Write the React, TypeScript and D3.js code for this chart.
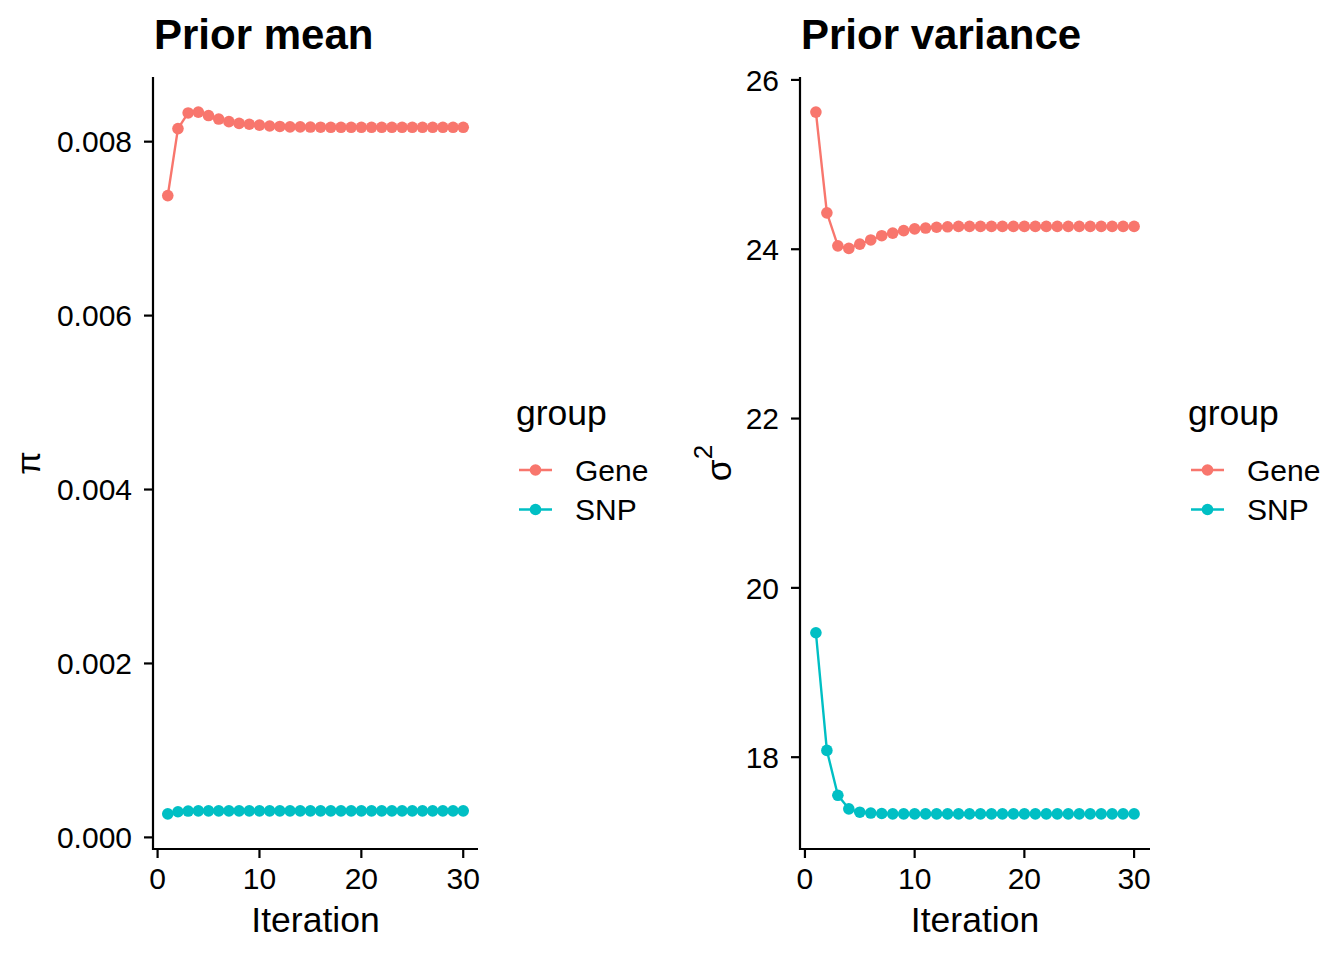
import React from "react";
import * as d3 from "d3";

const iterations: number[] = d3.range(1, 31);

const geneMean: number[] = [
  0.00738, 0.00815, 0.00833, 0.00834, 0.0083, 0.00826, 0.00823, 0.00821, 0.0082, 0.00819,
  0.00818, 0.008175, 0.00817, 0.00817, 0.008168, 0.008166, 0.008165, 0.008165, 0.008165, 0.008165,
  0.008165, 0.008165, 0.008165, 0.008165, 0.008165, 0.008165, 0.008165, 0.008165, 0.008165, 0.008165,
];
const snpMean: number[] = [
  0.00027, 0.000295, 0.000303, 0.000305, 0.000305, 0.000305, 0.000305, 0.000305, 0.000305, 0.000305,
  0.000305, 0.000305, 0.000305, 0.000305, 0.000305, 0.000305, 0.000305, 0.000305, 0.000305, 0.000305,
  0.000305, 0.000305, 0.000305, 0.000305, 0.000305, 0.000305, 0.000305, 0.000305, 0.000305, 0.000305,
];
const geneVar: number[] = [
  25.62, 24.43, 24.04, 24.01, 24.06, 24.11, 24.16, 24.19, 24.22, 24.24,
  24.25, 24.26, 24.265, 24.27, 24.27, 24.27, 24.27, 24.27, 24.27, 24.27,
  24.27, 24.27, 24.27, 24.27, 24.27, 24.27, 24.27, 24.27, 24.27, 24.27,
];
const snpVar: number[] = [
  19.47, 18.08, 17.55, 17.39, 17.35, 17.34, 17.335, 17.33, 17.33, 17.33,
  17.33, 17.33, 17.33, 17.33, 17.33, 17.33, 17.33, 17.33, 17.33, 17.33,
  17.33, 17.33, 17.33, 17.33, 17.33, 17.33, 17.33, 17.33, 17.33, 17.33,
];

const groups = ["Gene", "SNP"];
const groupColors = ["#F8766D", "#00BFC4"];
const xTicks = [0, 10, 20, 30];
const meanTicks = [0, 0.002, 0.004, 0.006, 0.008];
const varTicks = [18, 20, 22, 24, 26];

const FONT = "'Liberation Sans', Arial, Helvetica, sans-serif";

function expand(vals: number[]): [number, number] {
  const [lo, hi] = d3.extent(vals) as [number, number];
  const pad = (hi - lo) * 0.05;
  return [lo - pad, hi + pad];
}

type PanelProps = {
  left: number;
  right: number;
  title: string;
  series: number[][];
  yTicks: number[];
  yFormat: (v: number) => string;
  yLabel: React.ReactNode;
  yLabelX: number;
  legendX: number;
};

function Panel({ left, right, title, series, yTicks, yFormat, yLabel, yLabelX, legendX }: PanelProps) {
  const top = 77;
  const bottom = 849;
  const x = d3.scaleLinear().domain(expand(iterations)).range([left, right]);
  const y = d3.scaleLinear().domain(expand(series.flat())).range([bottom, top]);
  const line = d3
    .line<number>()
    .x((_, i) => x(iterations[i]))
    .y((d) => y(d));
  const tickLen = 9;
  return (
    <g fontFamily={FONT}>
      <text x={left + 1} y={49} fontSize={42} fontWeight="bold" fill="#000">
        {title}
      </text>
      {series.map((s, gi) => (
        <g key={gi}>
          <path d={line(s) || ""} fill="none" stroke={groupColors[gi]} strokeWidth={2.4} />
          {s.map((v, i) => (
            <circle key={i} cx={x(iterations[i])} cy={y(v)} r={5.8} fill={groupColors[gi]} />
          ))}
        </g>
      ))}
      <line x1={left} x2={left} y1={top} y2={bottom + 1} stroke="#000" strokeWidth={2.2} />
      <line x1={left - 1} x2={right} y1={bottom} y2={bottom} stroke="#000" strokeWidth={2.2} />
      {yTicks.map((t) => (
        <g key={t}>
          <line x1={left - tickLen} x2={left} y1={y(t)} y2={y(t)} stroke="#000" strokeWidth={2.2} />
          <text x={left - tickLen - 12} y={y(t)} dy="0.36em" textAnchor="end" fontSize={30} fill="#000">
            {yFormat(t)}
          </text>
        </g>
      ))}
      {xTicks.map((t) => (
        <g key={t}>
          <line x1={x(t)} x2={x(t)} y1={bottom} y2={bottom + tickLen} stroke="#000" strokeWidth={2.2} />
          <text x={x(t)} y={889} textAnchor="middle" fontSize={30} fill="#000">
            {t}
          </text>
        </g>
      ))}
      <text x={(left + right) / 2} y={932} textAnchor="middle" fontSize={35.5} fill="#000">
        Iteration
      </text>
      <g transform={`translate(${yLabelX},463) rotate(-90)`}>{yLabel}</g>
      <text x={legendX} y={425} fontSize={35.5} fill="#000">
        group
      </text>
      {groups.map((g, gi) => {
        const ky = 470 + gi * 39.5;
        return (
          <g key={g}>
            <line x1={legendX + 3} x2={legendX + 36} y1={ky} y2={ky} stroke={groupColors[gi]} strokeWidth={2.4} />
            <circle cx={legendX + 19.5} cy={ky} r={5.8} fill={groupColors[gi]} />
            <text x={legendX + 59} y={ky} dy="0.36em" fontSize={30} fill="#000">
              {g}
            </text>
          </g>
        );
      })}
    </g>
  );
}

export default function App() {
  const meanFmt = d3.format(".3f");
  const varFmt = d3.format("d");
  return (
    <div style={{ position: "absolute", left: 0, top: 0 }}>
      <svg width={1344} height={960} style={{ display: "block", background: "#fff" }}>
        <rect width={1344} height={960} fill="#fff" />
        <Panel
          left={153}
          right={478}
          title="Prior mean"
          series={[geneMean, snpMean]}
          yTicks={meanTicks}
          yFormat={meanFmt}
          yLabel={
            <text textAnchor="middle" fontSize={34} fill="#000" dy="0.3em">
              π
            </text>
          }
          yLabelX={30}
          legendX={516}
        />
        <Panel
          left={800}
          right={1150}
          title="Prior variance"
          series={[geneVar, snpVar]}
          yTicks={varTicks}
          yFormat={varFmt}
          yLabel={
            <text textAnchor="middle" fontSize={35.5} fill="#000" dy="0.35em">
              σ
              <tspan fontSize={26} dy="-0.75em">2</tspan>
            </text>
          }
          yLabelX={719}
          legendX={1188}
        />
      </svg>
    </div>
  );
}
